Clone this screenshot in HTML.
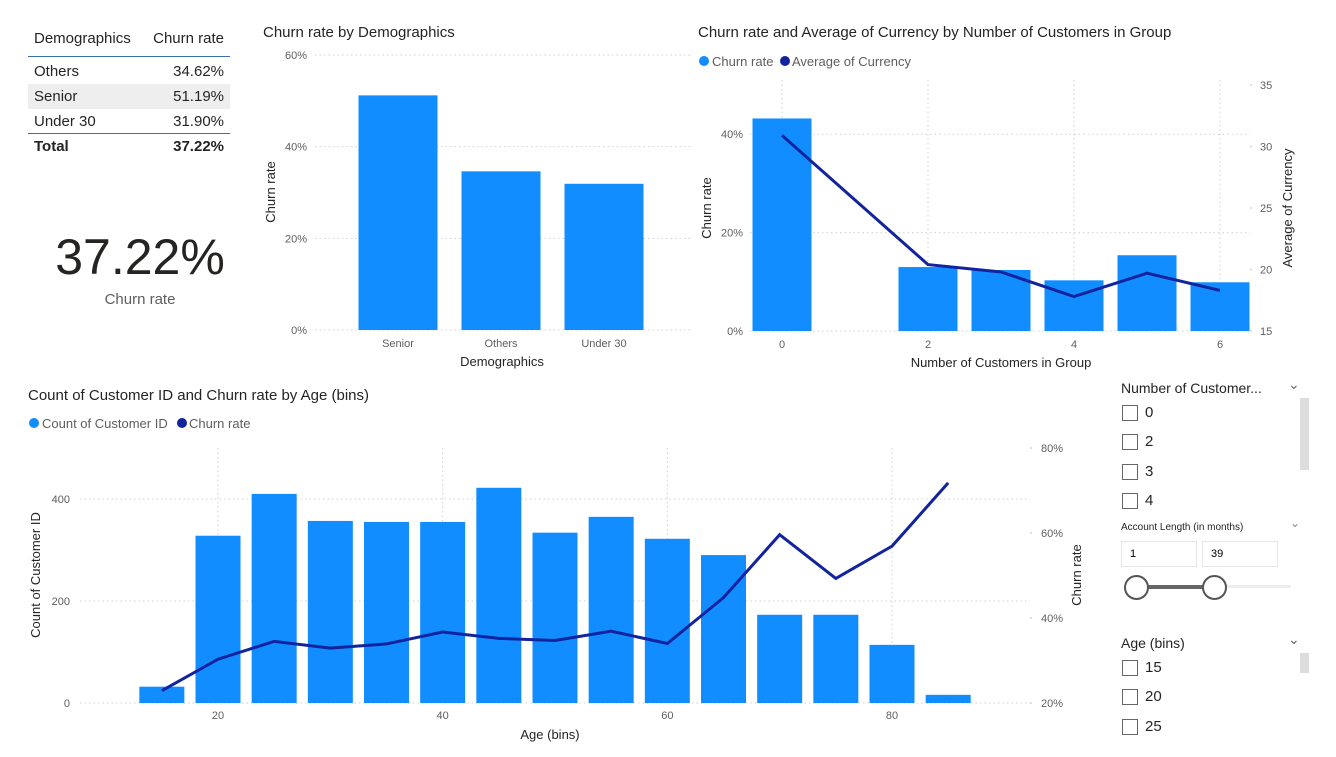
<!DOCTYPE html>
<html><head><meta charset="utf-8">
<style>
body{margin:0;width:1336px;height:757px;background:#fff;font-family:"Liberation Sans",sans-serif;overflow:hidden;position:relative}
.a{position:absolute}
svg text{font-family:"Liberation Sans",sans-serif}
.cb{position:absolute;width:14px;height:14px;border:1px solid #666;background:#fff}
.cl{position:absolute;font-size:15px;color:#252423}
.row{display:flex;justify-content:space-between;padding:0 6px;height:25px;line-height:25px;box-sizing:border-box}
</style></head><body>
<div class="a" style="left:28px;top:28px;width:202px;font-size:15px;color:#252423">
 <div style="display:flex;justify-content:space-between;padding:2px 6px 9px;border-bottom:1px solid #3a6fb0"><span>Demographics</span><span>Churn rate</span></div>
 <div class="row" style="margin-top:2px"><span>Others</span><span>34.62%</span></div>
 <div class="row" style="background:#eee"><span>Senior</span><span>51.19%</span></div>
 <div class="row" style="border-bottom:1px solid #3a6fb0"><span>Under 30</span><span>31.90%</span></div>
 <div class="row" style="font-weight:bold"><span>Total</span><span>37.22%</span></div>
</div>
<div class="a" style="left:40px;top:228px;width:200px;text-align:center;font-size:50px;color:#252423">37.22%</div>
<div class="a" style="left:40px;top:291px;width:200px;text-align:center;font-size:15px;color:#605e5c">Churn rate</div>

<svg class="a" style="left:0;top:0" width="1336" height="757" id="svg"></svg>

<div class="a" style="left:1121px;top:380px;font-size:14px;color:#252423">Number of Customer...</div>
<div class="a" style="left:1288px;top:376px;font-size:14px;color:#666">&#8964;</div>
<div class="a" style="left:1300px;top:398px;width:9px;height:72px;background:#ddd"></div>
<div class="cb" style="left:1122px;top:405px"></div><div class="cl" style="left:1145px;top:404px">0</div>
<div class="cb" style="left:1122px;top:434px"></div><div class="cl" style="left:1145px;top:433px">2</div>
<div class="cb" style="left:1122px;top:464px"></div><div class="cl" style="left:1145px;top:463px">3</div>
<div class="cb" style="left:1122px;top:493px"></div><div class="cl" style="left:1145px;top:492px">4</div>
<div class="a" style="left:1121px;top:522px;font-size:10px;color:#252423">Account Length (in months)</div>
<div class="a" style="left:1290px;top:516px;font-size:12px;color:#888">&#8964;</div>
<div class="a" style="left:1121px;top:541px;width:66px;height:24px;border:1px solid #e6e6e6;font-size:11px;line-height:24px;padding-left:8px">1</div>
<div class="a" style="left:1202px;top:541px;width:66px;height:24px;border:1px solid #e6e6e6;font-size:11px;line-height:24px;padding-left:8px">39</div>
<div class="a" style="left:1136px;top:585px;width:155px;height:3px;background:#eee"></div>
<div class="a" style="left:1136px;top:585px;width:79px;height:4px;background:#666"></div>
<div class="a" style="left:1124px;top:575px;width:21px;height:21px;border:2px solid #555;border-radius:50%;background:#fff"></div>
<div class="a" style="left:1202px;top:575px;width:21px;height:21px;border:2px solid #555;border-radius:50%;background:#fff"></div>
<div class="a" style="left:1121px;top:635px;font-size:14px;color:#252423">Age (bins)</div>
<div class="a" style="left:1288px;top:631px;font-size:14px;color:#666">&#8964;</div>
<div class="a" style="left:1300px;top:653px;width:9px;height:20px;background:#ddd"></div>
<div class="cb" style="left:1122px;top:660px"></div><div class="cl" style="left:1145px;top:659px">15</div>
<div class="cb" style="left:1122px;top:689px"></div><div class="cl" style="left:1145px;top:688px">20</div>
<div class="cb" style="left:1122px;top:719px"></div><div class="cl" style="left:1145px;top:718px">25</div>

<script>
const demoCats=["Senior","Others","Under 30"];
const demoVals=[51.19,34.62,31.9];
const demoTicks=[0,20,40,60];
const grpCats=[0,2,3,4,5,6];
const grpChurn=[43.2,13.0,12.4,10.3,15.4,9.9];
const grpCurrency=[30.9,20.4,19.8,17.8,19.7,18.3];
const grpLeftTicks=[0,20,40];
const grpRightTicks=[15,20,25,30,35];
const grpXTicks=[0,2,4,6];
const ageCats=[15,20,25,30,35,40,45,50,55,60,65,70,75,80,85];
const ageCounts=[32,328,410,357,355,355,422,334,365,322,290,173,173,114,16];
const ageChurn=[22.9,30.3,34.5,32.9,33.9,36.7,35.2,34.7,36.9,34.0,44.8,59.6,49.3,56.9,71.8];
const ageLeftTicks=[0,200,400];
const ageRightTicks=[20,40,60,80];
const ageXTicks=[20,40,60,80];

const NS="http://www.w3.org/2000/svg",svg=document.getElementById('svg');
const BLUE="#118DFF",NAVY="#12239E",GRID="#d0d0d0",TICK="#605e5c";
function mk(tag,at,txt){const e=document.createElementNS(NS,tag);for(const k in at)e.setAttribute(k,at[k]);if(txt!==undefined)e.textContent=txt;svg.appendChild(e);return e;}
function lin(d0,d1,r0,r1){return v=>r0+(v-d0)*(r1-r0)/(d1-d0);}
function grid(x1,x2,y,n){const l=mk('line',{x1,x2,y1:y,y2:y,stroke:GRID,'stroke-dasharray':'1.5 3'});}
function vgrid(x,y1,y2,n){const l=mk('line',{x1:x,x2:x,y1,y2,stroke:GRID,'stroke-dasharray':'1.5 3'});}
function txt(x,y,s,o,n){const t=mk('text',Object.assign({x,y,'font-size':11,fill:TICK},o||{}),s);return t;}

txt(263,37,"Churn rate by Demographics",{'font-size':15,fill:'#252423'},'demographics-chart-title');
txt(698,37,"Churn rate and Average of Currency by Number of Customers in Group",{'font-size':15,fill:'#252423'},'group-chart-title');
txt(28,400,"Count of Customer ID and Churn rate by Age (bins)",{'font-size':15,fill:'#252423'},'age-chart-title');

{const y=lin(0,60,330,55);
demoTicks.forEach(t=>{grid(315,690,y(t),'demo-gridline');txt(307,y(t)+4,t+"%",{'text-anchor':'end'},'demo-y-tick');});
demoCats.forEach((c,i)=>{const cx=398+i*103;const r=mk('rect',{x:cx-39.5,y:y(demoVals[i]),width:79,height:y(0)-y(demoVals[i]),fill:BLUE});

txt(cx,347,c,{'text-anchor':'middle'},'demo-x-tick');});
txt(502,366,"Demographics",{'text-anchor':'middle','font-size':13,fill:'#252423'},'demo-x-title');
txt(275,192,"Churn rate",{'text-anchor':'middle','font-size':13,fill:'#252423',transform:'rotate(-90 275 192)'},'demo-y-title');}

{const x=lin(0,6,782,1220),y=lin(0,50,331,85),yr=lin(15,35,331,85);
mk('circle',{cx:704,cy:61,r:5,fill:BLUE});
txt(712,66,"Churn rate",{'font-size':13},'legend-churn');
mk('circle',{cx:785,cy:61,r:5,fill:NAVY});
txt(792,66,"Average of Currency",{'font-size':13},'legend-currency');
grpLeftTicks.forEach(t=>{grid(750,1250,y(t),'group-gridline');txt(743,y(t)+4,t+"%",{'text-anchor':'end'},'group-y-tick');});
grpRightTicks.forEach(t=>{txt(1260,yr(t)+4,t,{},'group-y2-tick');mk('circle',{cx:1251,cy:yr(t),r:0.8,fill:'#bbb'});});
grpXTicks.forEach(t=>{vgrid(x(t),80,331,'group-vgrid');txt(x(t),348,t,{'text-anchor':'middle'},'group-x-tick');});
grpCats.forEach((c,i)=>{const r=mk('rect',{x:x(c)-29.5,y:y(grpChurn[i]),width:59,height:y(0)-y(grpChurn[i]),fill:BLUE});
});
const p=mk('polyline',{points:grpCats.map((c,i)=>x(c)+','+yr(grpCurrency[i])).join(' '),fill:'none',stroke:NAVY,'stroke-width':3});

txt(1001,367,"Number of Customers in Group",{'text-anchor':'middle','font-size':13,fill:'#252423'},'group-x-title');
txt(711,208,"Churn rate",{'text-anchor':'middle','font-size':13,fill:'#252423',transform:'rotate(-90 711 208)'},'group-y-title');
txt(1292,208,"Average of Currency",{'text-anchor':'middle','font-size':13,fill:'#252423',transform:'rotate(-90 1292 208)'},'group-y2-title');}

{const x=lin(20,80,218,892),y=lin(0,400,703,499),yr=lin(20,80,703,448);
mk('circle',{cx:34,cy:423,r:5,fill:BLUE});
txt(42,428,"Count of Customer ID",{'font-size':13},'legend-count');
mk('circle',{cx:182,cy:423,r:5,fill:NAVY});
txt(189,428,"Churn rate",{'font-size':13},'legend-age-churn');
ageLeftTicks.forEach(t=>{grid(80,1030,y(t),'age-gridline');txt(70,y(t)+4,t,{'text-anchor':'end'},'age-y-tick');});
ageRightTicks.forEach(t=>{txt(1041,yr(t)+4,t+"%",{},'age-y2-tick');mk('circle',{cx:1031,cy:yr(t),r:0.8,fill:'#bbb'});});
ageXTicks.forEach(t=>{vgrid(x(t),448,703,'age-vgrid');txt(x(t),719,t,{'text-anchor':'middle'},'age-x-tick');});
ageCats.forEach((c,i)=>{const r=mk('rect',{x:x(c)-22.5,y:y(ageCounts[i]),width:45,height:y(0)-y(ageCounts[i]),fill:BLUE});
});
const p=mk('polyline',{points:ageCats.map((c,i)=>x(c)+','+yr(ageChurn[i])).join(' '),fill:'none',stroke:NAVY,'stroke-width':3});

txt(550,739,"Age (bins)",{'text-anchor':'middle','font-size':13,fill:'#252423'},'age-x-title');
txt(40,575,"Count of Customer ID",{'text-anchor':'middle','font-size':13,fill:'#252423',transform:'rotate(-90 40 575)'},'age-y-title');
txt(1081,575,"Churn rate",{'text-anchor':'middle','font-size':13,fill:'#252423',transform:'rotate(-90 1081 575)'},'age-y2-title');}
</script>
</body></html>
